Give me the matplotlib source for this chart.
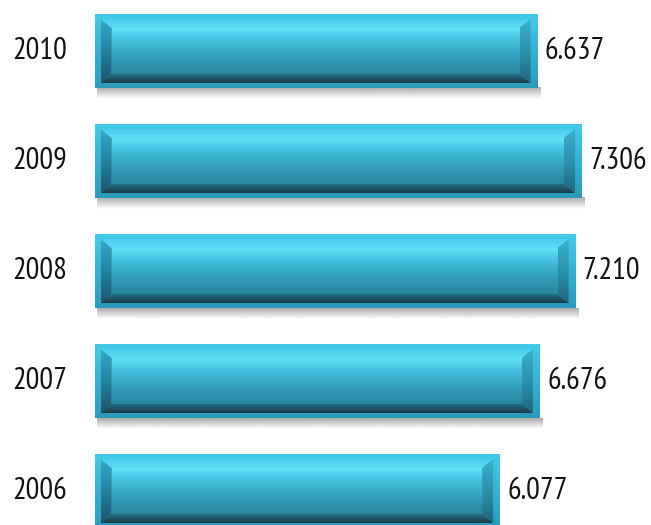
import numpy as np
import matplotlib
matplotlib.use('Agg')
import matplotlib.pyplot as plt
from matplotlib import font_manager as fm
from matplotlib.colors import LinearSegmentedColormap
from matplotlib.patches import Polygon

# data, bottom to top
years = ['2006', '2007', '2008', '2009', '2010']
values = [6.077, 6.676, 7.210, 7.306, 6.637]
value_labels = ['6.077', '6.676', '7.210', '7.306', '6.637']

# narrow font like the reference if there is one
available = set(f.name for f in fm.fontManager.ttflist)
wanted = ['Liberation Sans Narrow', 'PT Sans Narrow', 'Archivo Narrow',
          'Roboto Condensed', 'Open Sans Condensed', 'Fira Sans Condensed',
          'Carlito', 'Liberation Sans']
fams = [f for f in wanted if f in available] + ['DejaVu Sans']
plt.rcParams['font.family'] = fams

fig = plt.figure(figsize=(6.51, 5.25), dpi=100)
ax = fig.add_axes([0, 0, 1, 1])
ax.set_xlim(-1.419, 8.356)
ax.set_ylim(-0.309, 4.464)
ax.axis('off')

pos = np.arange(len(years))
bars = ax.barh(pos, values, height=0.673, color='#36aed0', zorder=2)

# size of one pixel in data units
px_x = np.diff(ax.get_xlim())[0] / (fig.get_figwidth() * fig.dpi)
px_y = np.diff(ax.get_ylim())[0] / (fig.get_figheight() * fig.dpi)


def vgrad(clip, x0, x1, y0, y1, colors, z):
    # vertical gradient (first colour at top) clipped to a patch
    cmap = LinearSegmentedColormap.from_list('g', colors)
    img = np.linspace(0, 1, 256).reshape(-1, 1)
    im = ax.imshow(img, cmap=cmap, extent=(x0, x1, y0, y1), aspect='auto',
                   origin='upper', zorder=z, interpolation='bicubic')
    im.set_clip_path(clip)


def poly(pts):
    p = Polygon(pts, closed=True, facecolor='none', edgecolor='none')
    ax.add_patch(p)
    return p


for bar in bars:
    x0, y0 = bar.get_x(), bar.get_y()
    x1, y1 = x0 + bar.get_width(), y0 + bar.get_height()

    # soft shadow under the bar
    sh = np.zeros((64, 1, 4))
    sh[:, 0, :3] = 0.4
    sh[:, 0, 3] = np.linspace(0.55, 0.0, 64)
    ax.imshow(sh, extent=(x0 + 2 * px_x, x1 + 3 * px_x, y0 - 11 * px_y, y0),
              aspect='auto', origin='upper', zorder=1)

    # outer rim
    vgrad(bar, x0, x1, y0, y1, ['#44cbea', '#35b2d2', '#2b9aba'], 3)

    # rim and bevel sizes
    rx, ry = 6 * px_x, 5 * px_y
    bx, by = 11 * px_x, 9 * px_y
    a0, a1, b0, b1 = x0 + rx, x1 - rx, y0 + ry, y1 - ry
    c0, c1, d0, d1 = a0 + bx, a1 - bx, b0 + by, b1 - by

    top = poly([(a0, b1), (a1, b1), (c1, d1), (c0, d1)])
    vgrad(top, a0, a1, d1, b1, ['#4ccdec', '#5edcf6'], 4)
    bottom = poly([(a0, b0), (a1, b0), (c1, d0), (c0, d0)])
    vgrad(bottom, a0, a1, b0, d0, ['#236f84', '#163a46'], 4)
    left = poly([(a0, b0), (a0, b1), (c0, d1), (c0, d0)])
    vgrad(left, a0, c0, b0, b1, ['#38aac8', '#2782a0', '#1c5468'], 4)
    right = poly([(a1, b0), (a1, b1), (c1, d1), (c1, d0)])
    vgrad(right, c1, a1, b0, b1, ['#3ab2d0', '#2c92ae', '#20667c'], 4)

    # inner face
    face = poly([(c0, d0), (c1, d0), (c1, d1), (c0, d1)])
    vgrad(face, c0, c1, d0, d1,
          ['#66e6fe', '#46c4e2', '#36acc9', '#3096b2', '#2a86a0'], 5)

ax.set_xlim(-1.419, 8.356)
ax.set_ylim(-0.309, 4.464)

# year labels on the left, values on the right
for p, yr, v, lab in zip(pos, years, values, value_labels):
    ax.annotate(yr, (0, p), xytext=(-55, 0), textcoords='offset pixels',
                ha='center', va='center', fontsize=22, color='#111111')
    ax.annotate(lab, (v, p), xytext=(8, 0), textcoords='offset pixels',
                ha='left', va='center', fontsize=22, color='#111111')

fig.savefig('out.png', dpi=100)
